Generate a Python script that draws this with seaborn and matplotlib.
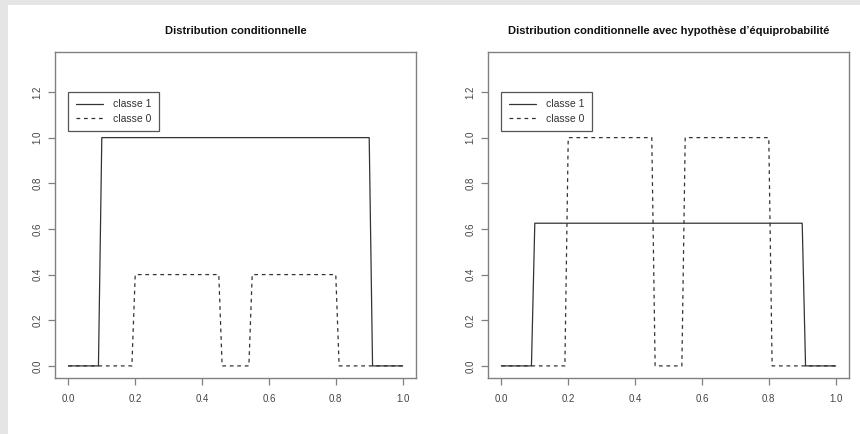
import matplotlib
matplotlib.use("Agg")
import matplotlib.pyplot as plt
from matplotlib.patches import Rectangle
import seaborn as sns
import pandas as pd

# --- data (vertices of the piecewise curves) ---
x_c1 = [0.0, 0.09, 0.10, 0.90, 0.91, 1.0]
y_c1_left = [0.0, 0.0, 1.0, 1.0, 0.0, 0.0]
y_c1_right = [0.0, 0.0, 0.625, 0.625, 0.0, 0.0]

x_c0 = [0.0, 0.19, 0.20, 0.45, 0.46, 0.54, 0.55, 0.80, 0.81, 1.0]
y_c0_left = [0.0, 0.0, 0.4, 0.4, 0.0, 0.0, 0.4, 0.4, 0.0, 0.0]
y_c0_right = [0.0, 0.0, 1.0, 1.0, 0.0, 0.0, 1.0, 1.0, 0.0, 0.0]

titles = ["Distribution conditionnelle",
          "Distribution conditionnelle avec hypothèse d\u2019équiprobabilité"]
legend_labels = ["classe 1", "classe 0"]
xticks = [0.0, 0.2, 0.4, 0.6, 0.8, 1.0]
yticks = [0.0, 0.2, 0.4, 0.6, 0.8, 1.0, 1.2]

sns.set_style("white")
plt.rcParams["font.family"] = ["Liberation Sans", "DejaVu Sans"]

W, H = 860, 434
fig = plt.figure(figsize=(W / 100, H / 100), dpi=100)
fig.patch.set_facecolor("#e5e5e5")
fig.patches.append(Rectangle((8 / W, 0), 1 - 8 / W, 1 - 5 / H,
                             transform=fig.transFigure, facecolor="white",
                             edgecolor="none", zorder=-10))

axes_px = [(55, 416), (488, 849)]
top_px, bot_px = 52, 378
line_col = "#333333"
spine_col = "#808080"

datasets = [(y_c1_left, y_c0_left), (y_c1_right, y_c0_right)]

for (l, r), title, (yc1, yc0) in zip(axes_px, titles, datasets):
    ax = fig.add_axes([l / W, (H - bot_px) / H, (r - l) / W, (bot_px - top_px) / H])
    ax.set_facecolor("none")
    d1 = pd.DataFrame({"x": x_c1, "y": yc1})
    d0 = pd.DataFrame({"x": x_c0, "y": yc0})
    sns.lineplot(data=d1, x="x", y="y", ax=ax, estimator=None, sort=False,
                 color=line_col, linewidth=0.9, label=legend_labels[0])
    sns.lineplot(data=d0, x="x", y="y", ax=ax, estimator=None, sort=False,
                 color=line_col, linewidth=0.9, linestyle=(0, (3, 3)),
                 label=legend_labels[1])
    ax.set_xlim(-0.04, 1.04)
    ax.set_ylim(-0.053, 1.375)
    ax.set_xticks(xticks)
    ax.set_yticks(yticks)
    ax.set_xticklabels([f"{v:.1f}" for v in xticks])
    ax.set_yticklabels([f"{v:.1f}" for v in yticks], rotation=90, va="center")
    ax.set_xlabel("")
    ax.set_ylabel("")
    for s in ax.spines.values():
        s.set_color(spine_col)
        s.set_linewidth(1.0)
    ax.tick_params(axis="both", direction="out", length=5, width=0.9,
                   color=spine_col, labelsize=7, labelcolor="#444444",
                   bottom=True, left=True)
    ax.tick_params(axis="x", pad=6.5)
    ax.tick_params(axis="y", pad=4)
    ax.set_title(title, fontsize=8, fontweight="bold", pad=13, color="#111111")
    leg = ax.legend(loc="upper left", bbox_to_anchor=(0.0, 1.2),
                    bbox_transform=ax.transData, borderaxespad=0,
                    frameon=True, fancybox=False, framealpha=1,
                    edgecolor="#555555", fontsize=7.5, handlelength=2.6,
                    handletextpad=1.0, borderpad=0.7, labelspacing=0.45)
    leg.get_frame().set_linewidth(0.9)
    for t in leg.get_texts():
        t.set_color("#333333")

fig.savefig("out.png", dpi=100, facecolor=fig.get_facecolor())
